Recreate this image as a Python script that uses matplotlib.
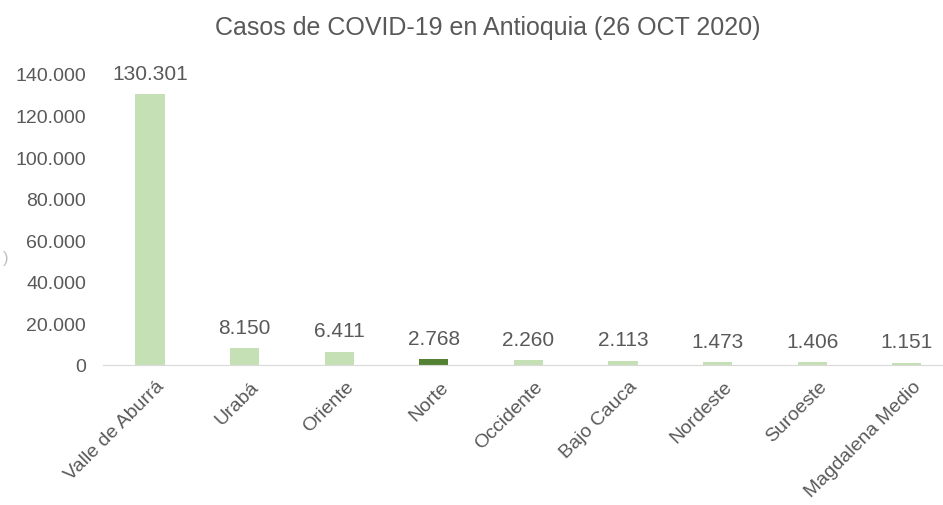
import matplotlib
matplotlib.use("Agg")
import matplotlib.pyplot as plt
import matplotlib.transforms as mtransforms

regions = ["Valle de Aburrá", "Urabá", "Oriente", "Norte", "Occidente",
           "Bajo Cauca", "Nordeste", "Suroeste", "Magdalena Medio"]
cases = [130301, 8150, 6411, 2768, 2260, 2113, 1473, 1406, 1151]
highlight = "Norte"

light_green = "#C5E0B4"
dark_green = "#548235"
text_gray = "#595959"

plt.rcParams["font.family"] = ["Liberation Sans", "DejaVu Sans"]


def fmt(v):
    return f"{v:,}".replace(",", ".")


fig = plt.figure(figsize=(9.43, 5.06), dpi=100)
ax = fig.add_axes([0.1089, 0.2767, 0.9029, 0.5753])

colors = [dark_green if r == highlight else light_green for r in regions]
x = list(range(len(regions)))
ax.bar(x, cases, width=0.307, color=colors)

# value labels sit a fixed distance above each bar, like Excel does it
for i, v in enumerate(cases):
    ax.annotate(fmt(v), (i, v), xytext=(0, 15), textcoords="offset points",
                ha="center", va="center", fontsize=15, color=text_gray)

ax.set_xlim(-0.5, len(regions) - 0.5)
ax.set_ylim(0, 140000)
yt = list(range(0, 140001, 20000))
ax.set_yticks(yt)
ax.set_yticklabels([fmt(t) for t in yt])
ax.tick_params(axis="y", length=0, labelsize=14, labelcolor=text_gray, pad=12)
ax.tick_params(axis="x", length=0, labelsize=14, labelcolor=text_gray, pad=9)
ax.set_xticks(x)
ax.set_xticklabels(regions, rotation=45, ha="right", rotation_mode="anchor")
shift = mtransforms.ScaledTranslation(6 / 100, 0, fig.dpi_scale_trans)
for lab in ax.get_xticklabels():
    lab.set_transform(lab.get_transform() + shift)

for side in ["top", "right", "left"]:
    ax.spines[side].set_visible(False)
ax.spines["bottom"].set_color("#D9D9D9")

fig.text(0.517, 0.945, "Casos de COVID-19 en Antioquia (26 OCT 2020)",
         ha="center", va="center", fontsize=18, color=text_gray)
fig.text(0.003, 0.49, ")", ha="left", va="center", fontsize=12, color="#BFBFBF")

fig.savefig("out.png", dpi=100)
